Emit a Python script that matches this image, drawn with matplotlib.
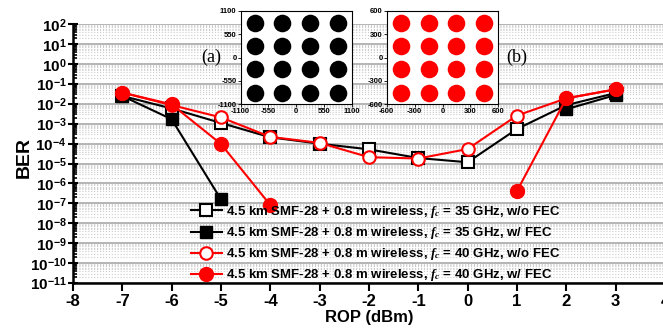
import numpy as np
import matplotlib
matplotlib.use('Agg')
import matplotlib.pyplot as plt
from matplotlib.ticker import LogLocator, FuncFormatter, NullFormatter, MultipleLocator

plt.rcParams['font.family'] = ['Liberation Sans', 'DejaVu Sans']
plt.rcParams['font.weight'] = 'bold'
plt.rcParams['mathtext.fontset'] = 'custom'
plt.rcParams['mathtext.rm'] = 'Liberation Sans:bold'
plt.rcParams['mathtext.bf'] = 'Liberation Sans:bold'
plt.rcParams['mathtext.it'] = 'Liberation Serif:italic'

# ROP (dBm)
rop = [-7, -6, -5, -4, -3, -2, -1, 0, 1, 2, 3]
nan = np.nan
ber_35_nofec = [2.5e-2, 5.9e-3, 1.1e-3, 2.1e-4, 1.0e-4, 5.2e-5, 1.9e-5, 1.17e-5, 5.5e-4, 8.7e-3, 3.5e-2]
ber_35_fec = [2.5e-2, 1.7e-3, 1.6e-7, nan, nan, nan, nan, nan, nan, 5.4e-3, 2.8e-2]
ber_40_nofec = [3.7e-2, 8.7e-3, 2.1e-3, 2.2e-4, 1.1e-4, 2.1e-5, 1.8e-5, 5.4e-5, 2.6e-3, 1.9e-2, 5.4e-2]
ber_40_fec = [3.7e-2, 9.5e-3, 9.7e-5, 8.3e-8, nan, nan, nan, nan, 4.2e-7, 1.9e-2, 5.4e-2]

labels = ['4.5 km SMF-28 + 0.8 m wireless, $f_c$ = 35 GHz, w/o FEC',
          '4.5 km SMF-28 + 0.8 m wireless, $f_c$ = 35 GHz, w/ FEC',
          '4.5 km SMF-28 + 0.8 m wireless, $f_c$ = 40 GHz, w/o FEC',
          '4.5 km SMF-28 + 0.8 m wireless, $f_c$ = 40 GHz, w/ FEC']

# 16-QAM cluster centres of the two constellation insets
qam_a = [-825, -275, 275, 825]
qam_b = [-450, -150, 150, 450]
ticks_a = [-1100, -550, 0, 550, 1100]
ticks_b = [-600, -300, 0, 300, 600]

fig = plt.figure(figsize=(6.63, 3.32), dpi=100)
ax = fig.add_axes([0.110, 0.1476, 0.893, 0.7792])

ax.plot(rop, ber_35_nofec, '-s', color='black', lw=1.5, ms=8, mfc='white', mew=1.5, label=labels[0])
ax.plot(rop, ber_35_fec, '-s', color='black', lw=1.5, ms=8, label=labels[1])
ax.plot(rop, ber_40_nofec, '-o', color='red', lw=1.5, ms=9, mfc='white', mew=1.5, label=labels[2])
ax.plot(rop, ber_40_fec, '-o', color='red', lw=1.5, ms=10, label=labels[3])

ax.set_yscale('log')
ax.set_ylim(1e-11, 1e2)
ax.set_xlim(-8, 4)
ax.xaxis.set_major_locator(MultipleLocator(1))
ax.xaxis.set_major_formatter(FuncFormatter(lambda v, p: '%d' % v))
ax.yaxis.set_major_locator(LogLocator(base=10, numticks=20))
ax.yaxis.set_minor_locator(LogLocator(base=10, subs=np.arange(2, 10), numticks=20))
ax.yaxis.set_minor_formatter(NullFormatter())
ax.yaxis.set_major_formatter(FuncFormatter(lambda v, p: r'$10^{%d}$' % round(np.log10(v))))

ax.grid(which='major', axis='y', color='#a8a8a8', lw=1.2)
ax.grid(which='minor', axis='y', color='#cccccc', lw=0.8, ls=':')
ax.set_axisbelow(True)

for s in ['top', 'right']:
    ax.spines[s].set_visible(False)
for s in ['left', 'bottom']:
    ax.spines[s].set_linewidth(1.8)
ax.tick_params(axis='x', which='major', direction='out', length=6, width=1.5, labelsize=12, pad=2)
ax.tick_params(axis='y', which='major', direction='inout', length=7, width=1.5, labelsize=11, pad=1)
ax.tick_params(axis='y', which='minor', direction='in', length=3, width=1.2)
for t in ax.get_xticklabels():
    t.set_fontweight('bold')

ax.set_xlabel('ROP (dBm)', fontsize=12, fontweight='bold', labelpad=1)
ax.set_ylabel('BER', fontsize=14, fontweight='bold')
ax.yaxis.set_label_coords(-0.068, 0.485)

leg = ax.legend(loc='lower left', bbox_to_anchor=(0.191, -0.021), frameon=False,
                prop={'weight': 'bold', 'size': 9.5}, handlelength=2.3,
                labelspacing=0.38, handletextpad=0.3, borderaxespad=0.0)

ax.text(0.233, 0.874, '(a)', transform=ax.transAxes, fontsize=13,
        family='Liberation Serif', fontweight='normal', va='center', ha='center')
ax.text(0.750, 0.874, '(b)', transform=ax.transAxes, fontsize=13,
        family='Liberation Serif', fontweight='normal', va='center', ha='center')

ins_a = fig.add_axes([0.363, 0.686, 0.1674, 0.281])
ins_b = fig.add_axes([0.5833, 0.686, 0.1683, 0.281])
for ins, c, lev, tk in [(ins_a, 'black', qam_a, ticks_a), (ins_b, 'red', qam_b, ticks_b)]:
    gx, gy = np.meshgrid(lev, lev)
    ins.scatter(gx.ravel(), gy.ravel(), s=160, color=c, marker='o', linewidths=0)
    ins.set_xlim(tk[0], tk[-1])
    ins.set_ylim(tk[0], tk[-1])
    ins.set_xticks(tk)
    ins.set_yticks(tk)
    ins.xaxis.set_major_formatter(FuncFormatter(lambda v, p: '%d' % v))
    ins.yaxis.set_major_formatter(FuncFormatter(lambda v, p: '%d' % v))
    ins.tick_params(labelsize=5.5, length=2, width=0.6, pad=1)
    for t in ins.get_xticklabels() + ins.get_yticklabels():
        t.set_fontweight('bold')
    for s in ins.spines.values():
        s.set_linewidth(0.8)

fig.savefig('out.png', dpi=100)
